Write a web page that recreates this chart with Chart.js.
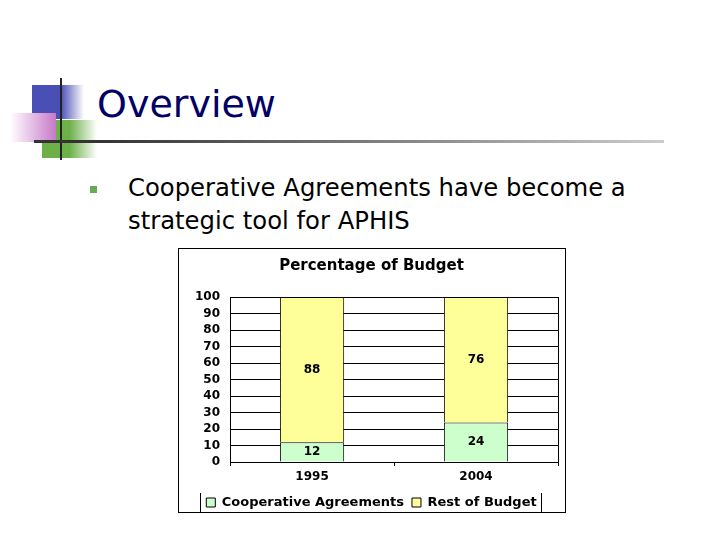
<!DOCTYPE html>
<html>
<head>
<meta charset="utf-8">
<script src="https://cdn.jsdelivr.net/npm/chart.js@4.4.0/dist/chart.umd.min.js"></script>
<style>
  body { margin: 0; width: 720px; height: 540px; background: #fff; position: relative; overflow: hidden; font-family: "DejaVu Sans", sans-serif; }
  .abs { position: absolute; }
  #title { left: 97px; top: 82px; font-size: 38px; color: #000066; font-family: "DejaVu Sans", sans-serif; }
  #bullet { left: 90px; top: 186px; width: 7px; height: 7px; background: #66aa55; }
  #text { left: 128px; top: 171px; font-size: 24.3px; line-height: 33px; color: #000; font-family: "DejaVu Sans", sans-serif; }
  #box { left: 178px; top: 248px; width: 386px; height: 263px; border: 1px solid #000; }
</style>
</head>
<body>
<div class="abs" style="left:32px;top:85px;width:52px;height:34px;background:linear-gradient(to right,#4a4fb5 55%,#ffffff);"></div>
<div class="abs" style="left:42px;top:120px;width:55px;height:38px;background:linear-gradient(to right,#6db04a 50%,#ffffff);"></div>
<div class="abs" style="left:10px;top:113px;width:46px;height:29px;background:linear-gradient(to left,#c779c8,#ffffff);"></div>
<div class="abs" style="left:60px;top:78px;width:2px;height:82px;background:#222;"></div>
<div class="abs" style="left:34px;top:140px;width:630px;height:3px;background:linear-gradient(to right,#333 10%,#ccc);"></div>
<div class="abs" id="title">Overview</div>
<div class="abs" id="bullet"></div>
<div class="abs" id="text">Cooperative Agreements have become a<br>strategic tool for APHIS</div>
<div class="abs" id="box"><canvas id="chartBudget" width="386" height="263"></canvas></div>
<script>
const years = ["1995", "2004"]
const cooperativeAgreements = [12, 24]
const restOfBudget = [88, 76]
const yTicks = [0, 10, 20, 30, 40, 50, 60, 70, 80, 90, 100]

const boldFont = { family: "DejaVu Sans", size: 12, weight: "bold" }

const segmentLabels = {
    id: "segmentLabels",
    afterDatasetsDraw(chart) {
        const ctx = chart.ctx
        ctx.save()
        ctx.font = "bold 12px 'DejaVu Sans'"
        ctx.fillStyle = "#000"
        ctx.textAlign = "center"
        ctx.textBaseline = "middle"
        chart.data.datasets.forEach((ds, i) => {
            chart.getDatasetMeta(i).data.forEach((bar, j) => {
                ctx.fillText(ds.data[j], bar.x, (bar.y + bar.base) / 2)
            })
        })
        ctx.restore()
    },
    afterDraw(chart) {
        const ctx = chart.ctx
        const a = chart.chartArea
        ctx.save()
        ctx.strokeStyle = "#000"
        ctx.lineWidth = 1
        ctx.beginPath()
        ctx.moveTo(Math.round(a.right) + 0.5, a.top)
        ctx.lineTo(Math.round(a.right) + 0.5, a.bottom + 4)
        // legend side bars
        const lg = chart.legend
        const l = Math.round(lg.left + lg.width / 2 - 172) + 0.5
        const r = Math.round(lg.left + lg.width / 2 + 169) + 0.5
        ctx.moveTo(l, chart.height - 19)
        ctx.lineTo(l, chart.height)
        ctx.moveTo(r, chart.height - 19)
        ctx.lineTo(r, chart.height)
        ctx.stroke()
        ctx.restore()
    }
}

new Chart(
    document.getElementById("chartBudget").getContext("2d"),
    {
        type: "bar",
        data: {
            labels: years,
            datasets: [
                {
                    label: "Cooperative Agreements",
                    data: cooperativeAgreements,
                    backgroundColor: "#ccffcc",
                    borderColor: "#000",
                    borderWidth: 1,
                    categoryPercentage: 0.8,
                    barPercentage: 0.49
                },
                {
                    label: "Rest of Budget",
                    data: restOfBudget,
                    backgroundColor: "#ffff99",
                    borderColor: "#000",
                    borderWidth: 1,
                    categoryPercentage: 0.8,
                    barPercentage: 0.49
                }
            ]
        },
        options: {
            responsive: false,
            animation: false,
            layout: { padding: { left: 6, right: 7, top: 0, bottom: 0 } },
            scales: {
                x: {
                    stacked: true,
                    offset: true,
                    afterFit: scale => { scale.height = 26 },
                    grid: { display: true, drawOnChartArea: false, color: "#000", tickLength: 4, offset: true },
                    border: { display: false },
                    ticks: { color: "#000", font: boldFont, padding: 4 }
                },
                y: {
                    stacked: true,
                    min: 0,
                    max: 100,
                    afterBuildTicks: axis => { axis.ticks = yTicks.map(v => ({ value: v })) },
                    grid: { color: "#000", drawTicks: false },
                    border: { display: true, color: "#000" },
                    ticks: { color: "#000", font: boldFont, padding: 10, autoSkip: false }
                }
            },
            plugins: {
                title: {
                    display: true,
                    text: "Percentage of Budget",
                    color: "#000",
                    font: { family: "DejaVu Sans", size: 15, weight: "bold" },
                    padding: { top: 8, bottom: 22 }
                },
                legend: {
                    position: "bottom",
                    maxHeight: 24,
                    labels: {
                        color: "#000",
                        font: { family: "DejaVu Sans", size: 13, weight: "bold" },
                        boxWidth: 9,
                        boxHeight: 9,
                        padding: 8
                    }
                },
                tooltip: { enabled: false }
            }
        },
        plugins: [segmentLabels]
    }
)
</script>
</body>
</html>
